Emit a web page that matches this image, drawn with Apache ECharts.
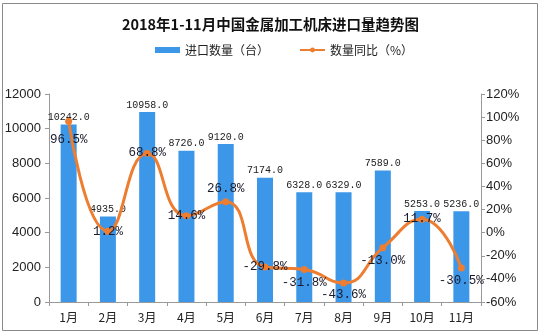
<!DOCTYPE html>
<html>
<head>
<meta charset="utf-8">
<script src="https://cdn.jsdelivr.net/npm/echarts@6/dist/echarts.min.js"></script>
<style>html,body{margin:0;padding:0;background:#fff}#c{width:541px;height:334px}</style>
</head>
<body>
<div id="c"></div>
<script>
const titleText = '2018年1-11月中国金属加工机床进口量趋势图';
const categories = ['1月','2月','3月','4月','5月','6月','7月','8月','9月','10月','11月'];
const importQty = [10242, 4935, 10958, 8726, 9120, 7174, 6328, 6329, 7589, 5253, 5236];
const yoyPct = [96.5, 1.2, 68.8, 14.6, 26.8, -29.8, -31.8, -43.6, -13.0, 11.7, -30.5];
const seriesNames = ['进口数量（台）', '数量同比（%）'];

const labelPos = ['bottom','inside','inside','inside','top','inside','bottom','bottom','bottom','inside','bottom'];
const labelDist = [9,0,0,0,3,0,3,2,3,0,3];

const chart = echarts.init(document.getElementById('c'));
chart.setOption({
  animation: false,
  backgroundColor: '#fff',
  graphic: [{
    type: 'rect', shape: {x: 2.5, y: 3.5, width: 535, height: 327},
    style: {fill: 'none', stroke: '#8a8a8a', lineWidth: 1}, silent: true, z: -1
  }],
  title: {
    text: titleText, left: 'center', top: 12,
    textStyle: {fontFamily: 'Noto Sans CJK SC', fontSize: 14.5, fontWeight: 'bold', color: '#111'}
  },
  legend: {
    top: 39, left: 150, itemGap: 30, itemWidth: 25, itemHeight: 6,
    textStyle: {fontFamily: 'Noto Sans CJK SC', fontSize: 12, color: '#222'},
    data: [{name: seriesNames[0], icon: 'rect'}, {name: seriesNames[1]}]
  },
  grid: {left: 49, right: 60, top: 94, bottom: 32},
  xAxis: {
    type: 'category', data: categories,
    axisLine: {lineStyle: {color: '#999'}},
    axisTick: {show: true, length: 4, lineStyle: {color: '#999'}},
    axisLabel: {fontFamily: 'Noto Sans CJK SC', fontSize: 12, color: '#222', margin: 9}
  },
  yAxis: [{
    type: 'value', min: 0, max: 12000, interval: 2000,
    axisLine: {show: true, lineStyle: {color: '#999'}},
    axisTick: {show: true, length: 4, lineStyle: {color: '#999'}},
    splitLine: {show: false},
    axisLabel: {fontFamily: 'Liberation Sans', fontSize: 13, color: '#222', margin: 8, formatter: v => String(v)}
  }, {
    type: 'value', min: -60, max: 120, interval: 20,
    axisLine: {show: true, lineStyle: {color: '#999'}},
    axisTick: {show: true, length: 4, lineStyle: {color: '#999'}},
    splitLine: {show: false},
    axisLabel: {fontFamily: 'Liberation Sans', fontSize: 13, color: '#222', margin: 5, formatter: '{value}%'}
  }],
  series: [{
    name: seriesNames[0], type: 'bar', data: importQty, barWidth: 16,
    itemStyle: {color: '#3C97E8'},
    label: {show: true, position: 'top', distance: 2, fontFamily: 'Liberation Mono', fontSize: 10, color: '#222',
      formatter: p => p.value.toFixed(1)}
  }, {
    name: seriesNames[1], type: 'line', yAxisIndex: 1, smooth: true, z: 5,
    data: yoyPct.map((v, i) => ({value: v, label: {position: labelPos[i], distance: labelDist[i]}})),
    lineStyle: {color: '#ED7D31', width: 3},
    itemStyle: {color: '#ED7D31'},
    symbol: 'circle', symbolSize: 7,
    label: {show: true, fontFamily: 'Liberation Mono', fontSize: 12.5, color: '#1a1a2a',
      formatter: p => p.value.toFixed(1) + '%'}
  }]
});
</script>
</body>
</html>
